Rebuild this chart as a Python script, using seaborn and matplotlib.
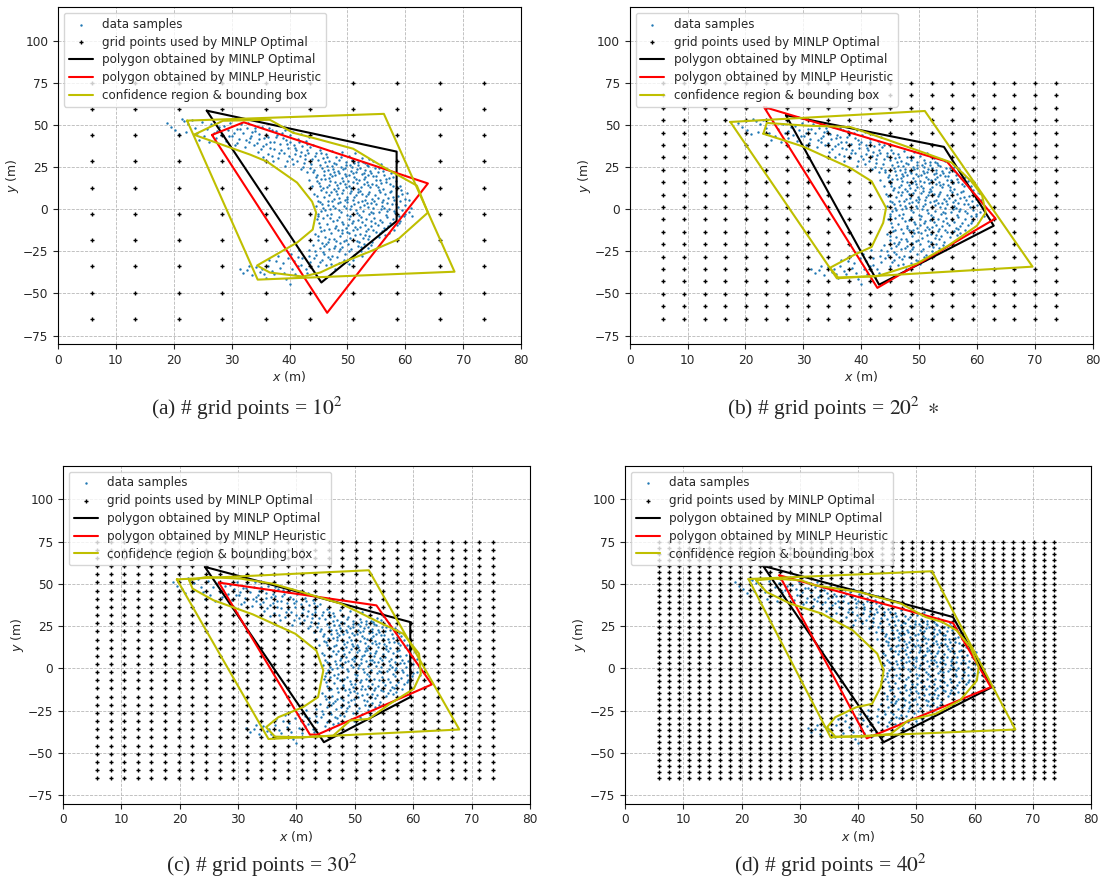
import numpy as np
import pandas as pd
import matplotlib
matplotlib.use("Agg")
import matplotlib.pyplot as plt
import seaborn as sns

sns.set_style("ticks")
plt.rcParams["font.family"] = ["DejaVu Sans"]

# ---- data samples (x, y) in metres ----
SAMPLES = [
    (18.8, 51.2), (19.5, 49.0), (20.3, 47.1), (20.9, 44.5), (21.4, 53.6), (21.8, 52.4), (22.5, 50.8),
    (23.1, 53.0), (23.6, 48.2), (24.0, 45.5), (24.4, 41.2), (24.8, 51.6), (25.2, 43.7), (25.7, 47.9),
    (26.1, 39.8), (26.5, 50.4), (26.9, 45.1), (27.3, 42.3), (27.8, 48.6), (22.2, 46.0),
    (28.2, 44.1), (28.6, 49.5), (29.0, 40.7), (29.3, 46.8), (29.8, 51.0), (30.1, 43.2), (30.5, 38.4),
    (30.9, 47.6), (31.2, 41.9), (31.6, 50.3), (32.0, 45.0), (32.3, 36.9), (32.7, 48.2), (33.0, 40.1),
    (33.4, 43.7), (33.8, 38.0), (34.1, 46.5), (34.5, 34.2), (34.8, 41.4), (35.2, 49.0), (35.5, 37.3),
    (35.9, 44.2), (36.2, 32.8), (36.6, 40.0), (36.9, 46.9), (37.3, 35.5), (37.6, 42.6), (38.0, 30.4),
    (38.3, 38.8), (38.7, 45.3), (39.0, 33.6), (39.4, 41.0), (39.7, 36.4), (40.1, 43.8), (40.4, 29.7),
    (40.8, 38.2), (41.1, 34.9), (41.5, 41.7), (41.8, 31.3), (42.2, 37.6), (42.5, 27.5), (42.9, 40.3),
    (43.2, 33.2), (43.6, 36.8), (43.9, 29.9), (31.0, 39.2), (32.9, 51.2), (34.0, 48.3), (35.0, 35.9),
    (36.0, 38.7), (36.4, 48.1), (37.0, 31.6), (37.9, 44.0), (38.5, 35.0), (39.2, 47.2), (39.9, 31.8),
    (40.6, 45.9), (41.3, 28.6), (41.9, 44.7), (42.7, 32.4), (43.4, 42.9), (44.0, 38.3), (37.4, 39.6),
    (38.9, 42.1), (40.0, 39.9), (41.0, 36.6), (42.0, 34.1), (43.0, 38.9), (35.6, 42.3), (34.3, 39.1),
    (33.5, 46.0), (32.5, 41.0), (30.4, 45.3), (36.7, 36.2), (39.5, 28.4),
    (27.4, 46.2), (29.6, 43.6), (31.4, 47.8), (33.1, 42.3), (34.7, 44.9), (36.3, 42.8), (37.7, 46.2),
    (38.2, 33.3), (39.6, 38.9), (40.9, 32.6), (41.6, 39.6), (42.6, 29.6), (43.1, 35.1), (44.4, 31.6),
    (45.5, 33.6), (46.5, 30.9), (35.4, 31.2), (37.1, 28.6), (39.2, 25.8), (40.6, 26.9), (41.9, 23.7),
    (43.5, 24.6),
    (44.5, 33.1), (45.2, 35.4), (45.8, 30.2), (46.3, 32.7), (46.9, 28.8), (47.4, 34.6), (48.0, 31.0),
    (48.6, 29.3), (49.1, 33.8), (49.7, 27.9), (50.2, 31.5), (50.8, 29.0), (51.3, 33.2), (51.9, 28.3),
    (52.5, 30.6), (53.1, 27.4), (53.8, 29.8), (54.4, 28.6), (44.9, 29.5), (47.7, 27.2),
    (42.4, 25.1), (43.0, 21.8), (43.7, 26.9), (44.2, 23.4), (44.8, 20.6), (45.3, 26.2), (45.9, 22.7),
    (46.4, 25.5), (47.0, 20.9), (47.5, 24.1), (48.1, 27.0), (48.6, 21.5), (49.2, 23.7), (49.7, 26.4),
    (50.3, 20.3), (50.8, 24.8), (51.4, 22.2), (51.9, 26.0), (52.5, 20.9), (53.0, 23.4), (53.6, 25.8),
    (54.1, 21.6), (54.7, 24.5), (55.2, 22.1), (55.8, 26.8), (56.3, 20.6), (56.9, 23.9), (57.5, 21.2),
    (46.7, 23.0), (48.9, 25.0), (50.6, 22.9), (52.2, 24.3), (53.9, 22.8), (47.9, 20.1),
    (43.3, 17.2), (43.9, 13.6), (44.6, 19.1), (45.1, 15.4), (45.7, 12.3), (46.2, 17.8), (46.8, 14.1),
    (47.3, 19.5), (47.9, 16.0), (48.4, 12.8), (49.0, 18.4), (49.5, 14.7), (50.1, 17.0), (50.6, 12.6),
    (51.2, 19.2), (51.7, 15.3), (52.3, 13.4), (52.8, 18.1), (53.4, 16.2), (53.9, 12.9), (54.5, 19.6),
    (55.0, 14.5), (55.6, 17.3), (56.1, 12.2), (56.7, 15.9), (57.2, 18.8), (57.8, 13.7), (58.4, 16.6),
    (59.0, 14.0), (48.7, 15.6), (50.9, 16.3), (52.0, 17.6), (46.5, 13.2), (54.2, 15.1), (49.8, 19.8),
    (44.3, 9.3), (44.9, 5.1), (45.5, 11.2), (46.0, 7.4), (46.6, 4.6), (47.1, 10.1), (47.7, 6.3),
    (48.2, 8.8), (48.8, 4.2), (49.3, 11.6), (49.9, 7.0), (50.4, 9.7), (51.0, 5.5), (51.5, 8.2),
    (52.1, 11.0), (52.6, 4.8), (53.2, 7.6), (53.7, 10.4), (54.3, 5.9), (54.8, 8.6), (55.4, 11.7),
    (55.9, 4.4), (56.5, 9.1), (57.0, 6.7), (57.6, 10.8), (58.1, 5.2), (58.7, 8.0), (59.3, 11.3),
    (59.9, 6.1), (50.0, 6.0), (51.8, 10.2), (53.0, 5.2), (48.0, 11.0), (55.2, 6.9),
    (44.5, 1.8), (45.0, -2.6), (45.6, 3.3), (46.1, -0.4), (46.7, 2.5), (47.2, -3.1), (47.8, 0.9),
    (48.3, 3.7), (48.9, -1.7), (49.4, 2.0), (50.0, -3.5), (50.5, 0.3), (51.1, 3.0), (51.6, -2.2),
    (52.2, 1.4), (52.7, -0.9), (53.3, 3.5), (53.8, -3.0), (54.4, 0.7), (54.9, 2.8), (55.5, -1.5),
    (56.0, 1.9), (56.6, -3.3), (57.1, 0.2), (57.7, 3.1), (58.2, -2.0), (58.8, 1.1), (59.4, -0.6),
    (60.0, 2.4), (60.6, -1.9), (49.7, 0.6), (51.4, -0.5), (53.6, 1.2), (55.8, -0.1),
    (44.7, -6.1), (45.3, -10.4), (45.8, -5.2), (46.4, -8.7), (46.9, -11.5), (47.5, -6.8), (48.0, -9.9),
    (48.6, -4.9), (49.1, -7.7), (49.7, -11.1), (50.2, -5.6), (50.8, -8.3), (51.3, -10.6), (51.9, -6.3),
    (52.4, -4.5), (53.0, -9.2), (53.5, -11.8), (54.1, -7.1), (54.6, -5.0), (55.2, -9.6), (55.7, -6.5),
    (56.3, -10.9), (56.8, -4.8), (57.4, -8.0), (57.9, -5.7), (58.5, -9.4), (59.1, -6.9), (49.3, -9.0),
    (51.0, -6.9), (53.2, -6.0),
    (44.4, -14.8), (45.0, -18.2), (45.5, -13.0), (46.1, -16.6), (46.6, -19.4), (47.2, -14.1),
    (47.7, -17.5), (48.3, -12.6), (48.8, -15.7), (49.4, -19.0), (49.9, -13.6), (50.5, -16.9),
    (51.0, -12.3), (51.6, -18.6), (52.1, -14.9), (52.7, -17.2), (53.2, -12.9), (53.8, -15.9),
    (54.3, -19.7), (54.9, -13.4), (55.4, -16.3), (56.0, -12.8), (56.5, -15.1), (57.1, -13.9),
    (48.0, -18.9), (50.3, -14.4),
    (43.4, -24.3), (44.0, -21.0), (44.6, -27.1), (45.2, -22.8), (45.7, -25.6), (46.3, -20.4),
    (46.8, -23.9), (47.4, -27.8), (47.9, -21.6), (48.5, -25.0), (49.0, -22.3), (49.6, -26.5),
    (50.1, -20.9), (50.7, -23.5), (51.2, -27.0), (51.8, -21.9), (52.3, -24.6), (52.9, -20.6),
    (53.5, -23.0), (54.1, -21.4), (46.0, -26.8), (48.2, -28.4),
    (40.8, -30.6), (41.5, -33.9), (42.1, -29.2), (42.8, -35.7), (43.5, -31.5), (44.2, -28.7),
    (44.9, -34.0), (45.6, -30.3), (46.3, -33.1), (47.0, -29.6), (47.8, -35.2), (48.6, -31.8),
    (49.4, -29.9), (50.2, -32.7), (51.0, -30.1),
    (31.4, -35.2), (32.0, -37.8), (32.7, -36.1), (33.5, -39.0), (34.2, -34.4), (34.9, -37.0),
    (35.6, -38.6), (36.3, -33.5), (37.0, -36.4), (37.7, -31.0), (38.4, -34.8), (39.1, -37.9),
    (39.8, -29.1), (40.3, -26.8), (41.0, -38.5), (41.7, -24.5), (40.0, -44.1), (42.4, -40.3),
    (38.0, -27.5), (36.5, -30.0),
    (33.0, -33.7), (35.3, -35.6), (37.4, -38.4), (38.8, -32.2), (40.5, -35.2), (42.0, -33.0),
    (43.0, -37.8), (39.4, -41.6), (36.0, -40.6), (41.5, -28.2),
    (47.6, 22.2), (49.5, 21.1), (51.1, 27.2), (52.9, 21.4), (55.0, 19.8), (56.0, 25.0), (45.4, 18.0),
    (47.0, 16.9), (48.2, 14.3), (50.3, 14.0), (51.9, 12.1), (53.6, 14.3), (55.8, 15.8), (57.3, 10.3),
    (46.3, 10.5), (48.5, 6.7), (50.7, 10.9), (52.6, 8.9), (54.0, 3.6), (56.2, 5.6), (58.4, 3.0),
    (45.8, 0.6), (47.5, 2.1), (49.9, 4.1), (52.0, -3.5), (54.5, -2.4), (56.9, -1.2), (59.8, -4.3),
    (47.0, -5.5), (49.0, -12.4), (51.7, -12.0), (54.0, -10.2), (56.0, -7.8), (58.0, -12.5),
    (46.0, -21.8), (48.8, -20.1), (52.0, -19.6), (50.3, -25.0), (45.1, -8.2), (60.7, 5.3),
    (61.2, -3.8), (60.3, 9.6), (58.9, -8.1),
    (46.2, 27.9), (48.9, 30.7), (50.5, 26.3), (52.7, 27.8), (45.6, 24.3), (47.3, 25.6), (49.6, 24.6),
    (51.6, 23.8), (53.3, 26.4), (55.4, 24.7), (44.1, 21.9), (46.0, 20.2), (48.4, 22.7), (50.9, 21.6),
    (53.6, 20.4), (56.1, 22.9), (57.9, 19.4), (44.8, 16.5), (46.9, 18.7), (49.3, 16.8), (51.5, 18.0),
    (53.1, 19.0), (54.9, 17.1), (56.6, 18.2), (58.6, 12.9), (45.2, 13.9), (47.6, 12.1), (49.7, 13.3),
    (52.9, 14.9), (55.3, 13.0), (57.4, 15.2), (59.5, 9.1), (44.7, 7.9), (46.8, 8.6), (49.0, 9.9),
    (51.2, 7.3), (53.5, 9.3), (55.7, 10.1), (57.8, 7.4), (45.3, 4.0), (47.4, 4.9), (49.5, 5.6),
    (51.9, 4.1), (54.6, 4.7), (56.8, 3.7), (59.1, 4.6), (61.0, 0.9), (45.4, -1.1), (47.0, 0.2),
    (48.6, -0.3), (50.7, 1.9), (52.8, 2.4), (54.1, -1.4), (56.3, 0.8), (58.0, -0.9), (59.9, -2.6),
    (44.9, -4.3), (46.5, -3.7), (48.2, -6.5), (50.4, -4.2), (52.5, -7.4), (54.8, -8.0), (57.0, -9.9),
    (58.9, -4.2), (45.9, -12.4), (47.9, -11.2), (50.1, -9.4), (52.2, -10.7), (54.5, -12.6),
    (56.7, -11.8), (44.9, -16.1), (46.9, -17.9), (49.1, -14.2), (51.3, -15.6), (53.5, -17.8),
    (55.7, -14.4), (45.6, -19.8), (47.6, -22.9), (49.8, -18.1), (52.4, -22.4), (53.0, -15.1),
    (44.4, -25.1), (46.6, -28.5), (48.7, -23.4), (50.9, -28.6), (43.3, -28.0), (45.3, -31.5),
    (47.2, -32.4), (49.9, -31.0), (52.6, -27.6),
]

# ---- candidate grid (regular lattice over the search area) ----
GRID_X_RANGE = (5.8, 73.6)
GRID_Y_RANGE = (-65.0, 75.0)
GRID_SIZES = [10, 20, 30, 40]

# ---- polygons per experiment: MINLP optimal, MINLP heuristic ----
OPT_A = [(25.7, 58.5), (58.5, 34.2), (58.5, -7.0), (45.5, -43.5)]
HEU_A = [(26.6, 44.1), (32.1, 51.6), (63.9, 15.3), (46.5, -61.5)]
OPT_B = [(27.0, 55.8), (54.3, 37.0), (62.9, -9.8), (43.1, -44.8)]
HEU_B = [(23.2, 60.7), (54.8, 28.3), (63.2, -5.5), (42.8, -46.7)]
OPT_C = [(24.3, 60.1), (36.1, 49.2), (59.5, 27.4), (59.5, -17.0), (44.7, -43.7)]
HEU_C = [(26.7, 50.8), (53.7, 37.3), (63.2, -9.5), (43.6, -39.2), (42.3, -39.2)]
OPT_D = [(23.7, 60.7), (56.3, 30.4), (63.0, -11.1), (44.4, -43.7)]
HEU_D = [(26.5, 55.1), (56.3, 26.9), (62.8, -11.1), (41.5, -41.4)]

# ---- bounding boxes ----
BOX_A = [(22.3, 52.6), (56.3, 56.6), (68.5, -37.1), (34.5, -41.8)]
BOX_B = [(17.4, 51.8), (51.0, 58.3), (69.6, -34.1), (35.8, -41.0)]
BOX_C = [(19.5, 52.7), (52.4, 58.1), (67.9, -36.2), (35.2, -41.8)]
BOX_D = [(21.2, 52.9), (52.7, 57.5), (67.0, -36.2), (35.3, -40.8)]

# ---- confidence regions ----
CR_A = [(23.5, 44.2), (33.2, 32.4), (36.1, 28.3), (41.3, 15.8), (43.9, 4.5), (44.6, -2.0),
        (44.0, -12.1), (41.3, -19.8), (34.4, -33.4), (36.6, -37.6), (42.3, -40.0), (45.3, -37.6),
        (48.2, -32.9), (53.9, -25.1), (58.7, -18.0), (63.9, -2.0), (62.0, 14.0), (56.1, 25.3),
        (51.0, 35.9), (44.0, 42.4), (40.6, 45.4), (36.6, 53.1), (28.5, 52.5), (23.5, 44.2)]
CR_B = [(23.1, 44.8), (29.9, 37.3), (38.1, 24.5), (41.8, 16.6), (44.3, 0.8), (43.8, -8.1),
        (41.8, -22.4), (38.9, -26.9), (34.6, -34.8), (36.0, -40.5), (42.7, -39.8), (45.5, -36.8),
        (49.6, -32.3), (55.0, -21.7), (60.0, -9.8), (61.5, -1.9), (60.9, 8.0), (59.1, 16.3),
        (55.6, 27.7), (50.8, 33.6), (44.3, 41.5), (38.1, 48.8), (30.6, 49.6), (23.7, 51.2),
        (23.1, 44.8)]
CR_C = [(21.6, 52.2), (22.2, 47.2), (25.8, 40.3), (32.5, 32.0), (39.8, 20.5), (43.4, 10.6),
        (44.6, -1.2), (43.7, -17.0), (41.1, -23.0), (36.9, -28.9), (34.8, -34.8), (36.3, -40.4),
        (40.9, -40.8), (46.3, -39.8), (49.2, -30.9), (52.4, -29.9), (56.0, -21.0), (60.1, -12.1),
        (61.3, -3.2), (61.0, 8.7), (58.3, 20.5), (54.1, 27.4), (50.6, 33.4), (47.6, 38.3),
        (39.9, 46.2), (35.8, 50.2), (30.5, 53.1), (24.6, 54.1), (21.6, 52.2)]
CR_D = [(22.5, 52.2), (24.3, 45.2), (28.4, 38.3), (33.8, 32.4), (39.1, 22.5), (43.3, 8.7),
        (44.4, -1.2), (43.9, -11.1), (42.4, -21.0), (39.7, -23.0), (36.1, -28.9), (34.7, -34.8),
        (36.1, -40.4), (40.9, -40.4), (45.6, -38.8), (48.6, -30.9), (53.3, -26.9), (57.5, -19.0),
        (60.4, -7.2), (60.7, 0.8), (59.3, 12.6), (56.9, 22.5), (54.5, 27.4), (51.6, 30.4),
        (47.4, 38.3), (40.3, 45.2), (32.6, 49.2), (30.2, 52.2), (25.5, 53.1), (22.5, 52.2)]

CAPTIONS = [
    r"(a) # grid points = $10^2$",
    r"(b) # grid points = $20^2\ \ast$",
    r"(c) # grid points = $30^2$",
    r"(d) # grid points = $40^2$",
]

PANELS = [
    (OPT_A, HEU_A, BOX_A, CR_A),
    (OPT_B, HEU_B, BOX_B, CR_B),
    (OPT_C, HEU_C, BOX_C, CR_C),
    (OPT_D, HEU_D, BOX_D, CR_D),
]

# axes rectangles in figure fraction: left, bottom, width, height
AX_RECTS = [
    (0.0525, 0.610, 0.4195, 0.382),
    (0.5703, 0.610, 0.4195, 0.382),
    (0.0571, 0.089, 0.4229, 0.383),
    (0.5661, 0.089, 0.4222, 0.383),
]
# caption anchor (figure fraction): centre x, centre y
CAPTION_POS = [(0.224, 0.537), (0.755, 0.537), (0.237, 0.019), (0.752, 0.019)]

samples = pd.DataFrame(SAMPLES, columns=["x", "y"])


def closed(poly):
    pts = list(poly) + [poly[0]]
    return pd.DataFrame(pts, columns=["x", "y"])


fig = plt.figure(figsize=(11.04, 8.82), dpi=100)

for i, (rect, (opt, heu, box, cr), n) in enumerate(zip(AX_RECTS, PANELS, GRID_SIZES)):
    ax = fig.add_axes(rect)
    ax.set_axisbelow(True)
    ax.grid(True, linestyle="--", linewidth=0.6, color="#b8b8b8")

    gx, gy = np.meshgrid(np.linspace(*GRID_X_RANGE, n), np.linspace(*GRID_Y_RANGE, n))
    grid = pd.DataFrame({"x": gx.ravel(), "y": gy.ravel()})

    sns.scatterplot(data=samples, x="x", y="y", ax=ax, s=3, color="#1f77b4",
                    linewidth=0, marker="o", label="data samples", zorder=2)
    sns.scatterplot(data=grid, x="x", y="y", ax=ax, s=8, color="k", marker="+",
                    linewidth=1.0, label="grid points used by MINLP Optimal", zorder=2)
    sns.lineplot(data=closed(opt), x="x", y="y", ax=ax, sort=False, estimator=None,
                 color="k", linewidth=1.5, label="polygon obtained by MINLP Optimal", zorder=3)
    sns.lineplot(data=closed(heu), x="x", y="y", ax=ax, sort=False, estimator=None,
                 color="r", linewidth=1.5, label="polygon obtained by MINLP Heuristic", zorder=3)
    sns.lineplot(data=closed(box), x="x", y="y", ax=ax, sort=False, estimator=None,
                 color="y", linewidth=1.5, label="confidence region & bounding box", zorder=3)
    sns.lineplot(data=closed(cr), x="x", y="y", ax=ax, sort=False, estimator=None,
                 color="y", linewidth=1.5, zorder=3)

    ax.set_xlim(0, 80)
    ax.set_ylim(-80, 120)
    ax.set_xticks(range(0, 81, 10))
    ax.set_yticks(range(-75, 101, 25))
    ax.tick_params(labelsize=8.7, length=3.5, width=0.8)
    ax.set_xlabel("$x$ (m)", fontsize=9, labelpad=2)
    ax.set_ylabel("$y$ (m)", fontsize=9, labelpad=1)
    for sp in ax.spines.values():
        sp.set_visible(True)
        sp.set_color("k")
        sp.set_linewidth(0.8)

    ax.legend(loc="upper left", fontsize=8.6, framealpha=0.8, borderaxespad=0.5,
              labelspacing=0.4, handlelength=2.0, markerscale=1.0)

    cx, cy = CAPTION_POS[i]
    fig.text(cx, cy, CAPTIONS[i], ha="center", va="center",
             fontsize=15.5, family="Liberation Serif", math_fontfamily="stix")

fig.savefig("out.png", dpi=100)
